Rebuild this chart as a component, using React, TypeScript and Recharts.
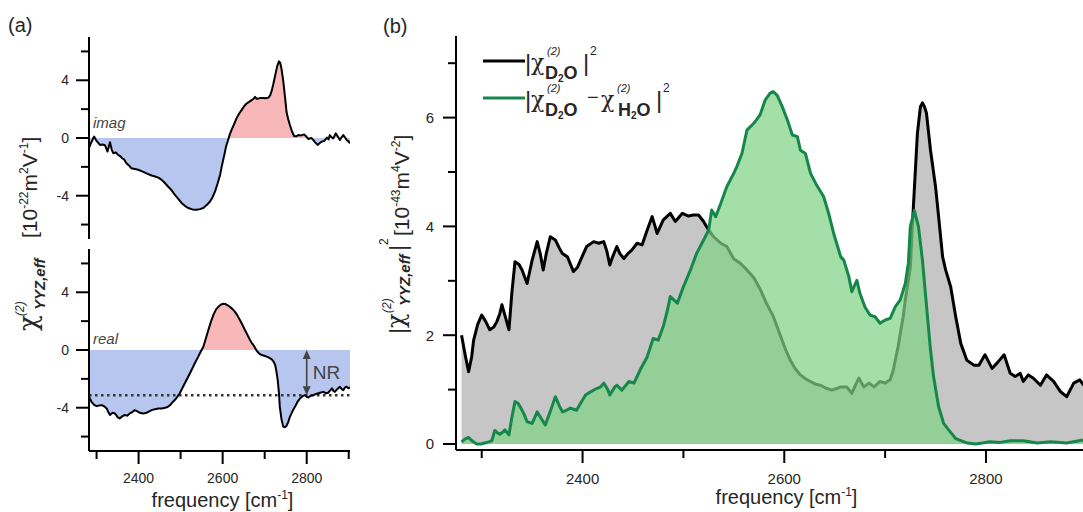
import React from 'react'
import { Area, ComposedChart, Label, Line, ReferenceLine, XAxis, YAxis } from 'recharts'

const FONT = '"Liberation Sans", Arial, Helvetica, sans-serif'
const CHI_FONT = '"DejaVu Serif", "DejaVu Sans", serif'

// (a) imaginary part of chi(2)_YYZ,eff  [1e-22 m^2 V^-1]
const imagFreq = [2280, 2286, 2294, 2300, 2308, 2314, 2320, 2326, 2332, 2336, 2340, 2346, 2351, 2356, 2361, 2366, 2371, 2377, 2383, 2391, 2399, 2407, 2415, 2423, 2431, 2439, 2447, 2455, 2462, 2470, 2478, 2486, 2494, 2502, 2510, 2518, 2528, 2538, 2546, 2554, 2562, 2570, 2576, 2582, 2588, 2594, 2598, 2604, 2608, 2613, 2617, 2621, 2627, 2633, 2639, 2645, 2651, 2657, 2663, 2669, 2673, 2677, 2681, 2685, 2691, 2697, 2703, 2709, 2713, 2717, 2721, 2725, 2730, 2734, 2737, 2740, 2744, 2747, 2750, 2752, 2756, 2760, 2765, 2770, 2775, 2780, 2787, 2794, 2799, 2804, 2811, 2816, 2820, 2826, 2831, 2836, 2842, 2848, 2852, 2855, 2859, 2863, 2869, 2874, 2879, 2883, 2887, 2891, 2895, 2900, 2903]
const imagVal = [-0.83, -0.4, 0.1, -0.2, -0.48, -0.45, -0.5, -0.94, -0.3, -0.8, -1.06, -1.0, -1.17, -1.25, -1.4, -1.5, -1.75, -1.9, -2.1, -2.15, -2.2, -2.3, -2.4, -2.5, -2.6, -2.67, -2.75, -2.9, -3.1, -3.36, -3.6, -3.93, -4.2, -4.5, -4.7, -4.85, -4.95, -4.97, -4.93, -4.85, -4.65, -4.4, -4.1, -3.7, -3.15, -2.55, -1.95, -1.17, -0.6, -0.14, 0.25, 0.55, 0.95, 1.36, 1.68, 1.93, 2.2, 2.39, 2.5, 2.62, 2.7, 2.85, 2.72, 2.74, 2.78, 2.78, 2.76, 2.8, 2.95, 3.3, 3.8, 4.34, 5.0, 5.31, 5.2, 4.8, 4.0, 3.2, 2.4, 1.8, 1.3, 0.9, 0.45, 0.14, 0.12, 0.2, 0.18, 0.25, 0.1, -0.07, 0.0, -0.15, -0.3, -0.48, -0.35, -0.25, -0.2, 0.03, -0.1, 0.2, 0.05, -0.03, 0.32, 0.1, -0.14, 0.05, 0.2, 0.05, -0.14, -0.25, -0.37]

// (a) real part
const realFreq = [2280, 2284, 2288, 2294, 2300, 2306, 2312, 2318, 2324, 2328, 2332, 2338, 2344, 2350, 2355, 2361, 2367, 2373, 2379, 2385, 2391, 2397, 2403, 2411, 2419, 2425, 2431, 2439, 2447, 2455, 2463, 2469, 2475, 2480, 2486, 2492, 2498, 2504, 2510, 2518, 2526, 2534, 2542, 2548, 2554, 2560, 2566, 2572, 2578, 2584, 2590, 2596, 2601, 2607, 2612, 2617, 2623, 2629, 2635, 2641, 2647, 2653, 2659, 2665, 2669, 2673, 2677, 2681, 2687, 2693, 2699, 2705, 2711, 2717, 2721, 2725, 2728, 2731, 2734, 2736, 2740, 2744, 2748, 2752, 2756, 2760, 2766, 2772, 2778, 2784, 2790, 2796, 2800, 2804, 2810, 2816, 2822, 2828, 2834, 2840, 2846, 2851, 2856, 2860, 2864, 2867, 2873, 2879, 2883, 2887, 2891, 2895, 2899, 2903]
const realVal = [-3.0, -3.35, -3.59, -3.8, -3.89, -3.85, -3.82, -3.9, -4.05, -4.3, -4.5, -4.35, -4.4, -4.65, -4.75, -4.6, -4.5, -4.55, -4.4, -4.3, -4.17, -4.25, -4.35, -4.4, -4.35, -4.25, -4.17, -4.1, -4.05, -4.05, -4.0, -3.95, -3.82, -3.65, -3.47, -3.25, -3.0, -2.65, -2.31, -1.85, -1.39, -0.9, -0.46, -0.1, 0.23, 0.8, 1.39, 1.95, 2.43, 2.8, 3.0, 3.15, 3.2, 3.18, 3.1, 3.0, 2.85, 2.66, 2.4, 2.08, 1.75, 1.39, 1.05, 0.69, 0.5, 0.35, 0.15, -0.05, -0.25, -0.35, -0.4, -0.46, -0.55, -0.65, -0.8, -1.04, -1.5, -2.08, -3.0, -3.94, -4.8, -5.3, -5.35, -5.25, -5.0, -4.63, -4.25, -3.94, -3.6, -3.36, -3.2, -3.13, -3.25, -3.29, -3.15, -3.13, -3.05, -3.0, -2.95, -2.9, -3.0, -2.96, -2.8, -2.66, -2.85, -2.9, -2.7, -2.55, -2.7, -2.78, -2.6, -2.55, -2.65, -2.6]
const nrLevel = -3.13
const nrFreq = 2800

// (b) |chi(2)_D2O|^2  [1e-43 m^4 V^-2]
const d2oFreq = [2280, 2284, 2287, 2290, 2292, 2296, 2300, 2304, 2308, 2312, 2315, 2318, 2320, 2324, 2327, 2330, 2333, 2337, 2340, 2345, 2350, 2355, 2358, 2361, 2364, 2368, 2373, 2377, 2380, 2385, 2391, 2395, 2398, 2404, 2411, 2416, 2421, 2424, 2427, 2430, 2434, 2437, 2441, 2445, 2449, 2454, 2459, 2464, 2469, 2474, 2480, 2487, 2492, 2499, 2505, 2510, 2515, 2520, 2525, 2530, 2537, 2543, 2550, 2556, 2563, 2570, 2576, 2582, 2589, 2596, 2601, 2606, 2611, 2616, 2621, 2626, 2631, 2636, 2641, 2647, 2652, 2656, 2662, 2667, 2671, 2674, 2679, 2684, 2689, 2695, 2700, 2705, 2708, 2710, 2713, 2715, 2718, 2720, 2723, 2725, 2728, 2732, 2735, 2737, 2739, 2741, 2745, 2750, 2754, 2757, 2760, 2765, 2770, 2775, 2781, 2788, 2793, 2799, 2806, 2812, 2818, 2824, 2829, 2834, 2837, 2842, 2847, 2854, 2860, 2867, 2874, 2880, 2887, 2893, 2897]
const d2oVal = [2.0, 1.6, 1.33, 1.6, 1.91, 2.2, 2.37, 2.25, 2.1, 2.15, 2.25, 2.4, 2.56, 2.3, 2.1, 2.8, 3.35, 3.3, 3.2, 2.95, 3.38, 3.72, 3.5, 3.2, 3.5, 3.81, 3.75, 3.6, 3.5, 3.44, 3.17, 3.25, 3.38, 3.63, 3.72, 3.69, 3.72, 3.55, 3.29, 3.45, 3.63, 3.5, 3.41, 3.5, 3.57, 3.69, 3.66, 3.93, 4.18, 3.87, 4.12, 4.24, 4.09, 4.24, 4.19, 4.21, 4.21, 4.09, 3.93, 3.81, 3.69, 3.63, 3.4, 3.33, 3.2, 3.05, 2.85, 2.6, 2.35, 2.0, 1.75, 1.54, 1.38, 1.27, 1.2, 1.15, 1.1, 1.08, 1.03, 0.99, 1.02, 1.05, 1.05, 0.93, 1.1, 1.21, 1.05, 1.12, 1.05, 1.15, 1.12, 1.18, 1.35, 1.54, 1.8, 2.03, 2.35, 2.65, 3.0, 3.26, 4.36, 5.71, 6.2, 6.27, 6.2, 6.08, 5.4, 4.73, 4.0, 3.44, 3.2, 2.89, 2.34, 1.85, 1.54, 1.45, 1.45, 1.64, 1.39, 1.51, 1.64, 1.3, 1.24, 1.3, 1.15, 1.27, 1.21, 1.08, 1.27, 1.15, 0.96, 0.87, 1.12, 1.18, 1.08]

// (b) |chi(2)_D2O - chi(2)_H2O|^2
const diffFreq = [2280, 2284, 2287, 2291, 2295, 2299, 2303, 2307, 2310, 2313, 2316, 2318, 2321, 2323, 2327, 2330, 2333, 2336, 2338, 2342, 2345, 2350, 2355, 2358, 2363, 2368, 2373, 2377, 2380, 2384, 2388, 2394, 2398, 2403, 2408, 2414, 2418, 2421, 2425, 2427, 2432, 2434, 2439, 2446, 2451, 2457, 2464, 2470, 2475, 2480, 2484, 2487, 2494, 2500, 2507, 2513, 2520, 2525, 2528, 2532, 2537, 2543, 2550, 2553, 2558, 2563, 2570, 2576, 2581, 2586, 2589, 2593, 2598, 2603, 2608, 2613, 2616, 2621, 2626, 2632, 2639, 2644, 2649, 2656, 2659, 2664, 2667, 2672, 2675, 2680, 2685, 2690, 2695, 2700, 2705, 2710, 2715, 2720, 2723, 2725, 2729, 2733, 2737, 2742, 2745, 2748, 2753, 2758, 2763, 2770, 2781, 2790, 2804, 2814, 2824, 2837, 2851, 2864, 2880, 2895, 2897]
const diffVal = [0.04, 0.1, 0.12, 0.05, 0.0, 0.0, 0.02, 0.04, 0.06, 0.25, 0.2, 0.18, 0.22, 0.26, 0.17, 0.5, 0.78, 0.75, 0.69, 0.55, 0.41, 0.38, 0.59, 0.5, 0.35, 0.6, 0.87, 0.7, 0.59, 0.62, 0.66, 0.62, 0.75, 0.9, 0.96, 1.02, 1.05, 1.12, 1.0, 0.9, 1.05, 1.08, 0.99, 1.15, 1.12, 1.36, 1.6, 1.94, 1.91, 2.16, 2.45, 2.71, 2.59, 2.89, 3.2, 3.5, 3.75, 3.93, 4.3, 4.18, 4.42, 4.73, 4.98, 5.1, 5.34, 5.77, 5.9, 6.05, 6.32, 6.45, 6.48, 6.41, 6.2, 5.96, 5.68, 5.65, 5.4, 5.34, 4.98, 4.76, 4.55, 4.24, 3.87, 3.44, 3.38, 3.08, 2.8, 3.01, 2.77, 2.52, 2.37, 2.34, 2.22, 2.28, 2.31, 2.52, 2.65, 2.95, 3.32, 4.0, 4.29, 4.0, 3.38, 2.34, 1.73, 1.24, 0.69, 0.38, 0.26, 0.1, 0.02, 0.0, 0.04, 0.03, 0.06, 0.06, 0.02, 0.04, 0.02, 0.07, 0.07]

const chiTicks = [-6, -4, -2, 0, 2, 4, 6]
const chiLabels = [-4, 0, 4]
const sqTicks = [0, 1, 2, 3, 4, 5, 6, 7]
const sqLabels = [0, 2, 4, 6]
const freqTicksA = [2300, 2400, 2500, 2600, 2700, 2800, 2900]
const freqTicksB = [2300, 2400, 2500, 2600, 2700, 2800]
const freqLabels = [2400, 2600, 2800]

const POS_FILL = '#f8b8b9'
const NEG_FILL = '#b7c6ef'
const GRAY_FILL = '#c6c6c6'
const GREEN = '#15874a'
const GREEN_FILL = '#7fd283'
const TEXT = '#262626'

function signedRows(freq: number[], val: number[]) {
  return freq.map((f, i) => ({ f, v: val[i], pos: Math.max(val[i], 0), neg: Math.min(val[i], 0) }))
}

function rows(freq: number[], val: number[]) {
  return freq.map((f, i) => ({ f, v: val[i] }))
}

const imagRows = signedRows(imagFreq, imagVal)
const realRows = signedRows(realFreq, realVal)
const d2oRows = rows(d2oFreq, d2oVal)
const diffRows = rows(diffFreq, diffVal)

const axisLine = { stroke: '#000', strokeWidth: 2 }

function yTick(labels: number[], fontSize: number, gap: number) {
  return (props: any) => {
    const { x, y, payload } = props
    const major = labels.includes(payload.value)
    return (
      <g>
        <line x1={x} x2={x - (major ? 13 : 8)} y1={y} y2={y} stroke="#000" strokeWidth={2} />
        {major && (
          <text x={x - gap} y={y} dy="0.36em" textAnchor="end" fontSize={fontSize} fill={TEXT} fontFamily={FONT}>
            {payload.value}
          </text>
        )}
      </g>
    )
  }
}

function xTick(labels: number[], fontSize: number, gap: number) {
  return (props: any) => {
    const { x, y, payload } = props
    const major = labels.includes(payload.value)
    return (
      <g>
        <line x1={x} x2={x} y1={y} y2={y + (major ? 13 : 8)} stroke="#000" strokeWidth={2} />
        {major && (
          <text x={x} y={y + gap} textAnchor="middle" fontSize={fontSize} fill={TEXT} fontFamily={FONT}>
            {payload.value}
          </text>
        )}
      </g>
    )
  }
}

function freqTitle(dx: number, dy: number) {
  return (props: any) => {
    const { x, y, width } = props.viewBox
    return (
      <text x={x + width / 2 + dx} y={y + dy} textAnchor="middle" fontSize={20} fill={TEXT} fontFamily={FONT}>
        frequency [cm
        <tspan fontSize={12} dy={-8}>-1</tspan>
        <tspan dy={8}>]</tspan>
      </text>
    )
  }
}

function NrArrow(props: any) {
  const { x1, y1, x2, y2 } = props
  const c = '#444'
  return (
    <g>
      <line x1={x1} x2={x2} y1={y1 + 6} y2={y2 - 6} stroke={c} strokeWidth={1.6} />
      <polygon points={`${x1},${y1} ${x1 - 4},${y1 + 9} ${x1 + 4},${y1 + 9}`} fill={c} />
      <polygon points={`${x2},${y2} ${x2 - 4},${y2 - 9} ${x2 + 4},${y2 - 9}`} fill={c} />
    </g>
  )
}

function SignedPanel({ data, showX }: { data: any[]; showX: boolean }) {
  return (
    <ComposedChart
      width={370}
      height={showX ? 272 : 250}
      data={data}
      margin={showX ? { top: 9, right: 20, bottom: 9, left: 0 } : { top: 37, right: 20, bottom: 11, left: 0 }}
    >
      <XAxis
        type="number"
        dataKey="f"
        domain={[2282, 2903]}
        allowDataOverflow
        hide={!showX}
        ticks={freqTicksA}
        interval={0}
        height={52}
        axisLine={axisLine}
        tickLine={false}
        tickSize={0}
        tickMargin={0}
        tick={xTick(freqLabels, 14, 32)}
      >
        {showX && <Label content={freqTitle(3, 56)} />}
      </XAxis>
      <YAxis
        type="number"
        domain={[-7, 7]}
        allowDataOverflow
        ticks={chiTicks}
        interval={0}
        width={89}
        axisLine={axisLine}
        tickLine={false}
        tickSize={0}
        tickMargin={0}
        tick={yTick(chiLabels, 14, 20)}
      />
      <Area type="linear" dataKey="pos" stroke="none" fill={POS_FILL} fillOpacity={1} isAnimationActive={false} />
      <Area type="linear" dataKey="neg" stroke="none" fill={NEG_FILL} fillOpacity={1} isAnimationActive={false} />
      {showX && <ReferenceLine y={nrLevel} stroke="#333" strokeWidth={2.5} strokeDasharray="2.5 3.5" />}
      <Line type="linear" dataKey="v" stroke="#000" strokeWidth={2} dot={false} strokeLinejoin="round" isAnimationActive={false} />
      {showX && (
        <ReferenceLine
          segment={[{ x: nrFreq, y: 0 }, { x: nrFreq, y: nrLevel }]}
          shape={NrArrow}
          label={{ value: 'NR', position: 'right', offset: 6, fontSize: 19, fill: '#444', fontFamily: FONT }}
        />
      )}
    </ComposedChart>
  )
}

function SquaredPanel() {
  return (
    <ComposedChart width={713} height={512} margin={{ top: 36, right: 0, bottom: 10, left: 0 }}>
      <XAxis
        type="number"
        dataKey="f"
        domain={[2274.5, 2896.2]}
        allowDataOverflow
        ticks={freqTicksB}
        interval={0}
        height={52}
        axisLine={axisLine}
        tickLine={false}
        tickSize={0}
        tickMargin={0}
        tick={xTick(freqLabels, 15, 34)}
      >
        <Label content={freqTitle(17, 54)} />
      </XAxis>
      <YAxis
        type="number"
        domain={[-0.11, 7.5]}
        allowDataOverflow
        ticks={sqTicks}
        interval={0}
        width={86}
        axisLine={axisLine}
        tickLine={false}
        tickSize={0}
        tickMargin={0}
        tick={yTick(sqLabels, 15, 22)}
      />
      <Area
        data={d2oRows}
        type="linear"
        dataKey="v"
        stroke="#000"
        strokeWidth={3}
        strokeLinejoin="round"
        fill={GRAY_FILL}
        fillOpacity={1}
        isAnimationActive={false}
      />
      <Area
        data={diffRows}
        type="linear"
        dataKey="v"
        stroke={GREEN}
        strokeWidth={3}
        strokeLinejoin="round"
        fill={GREEN_FILL}
        fillOpacity={0.72}
        isAnimationActive={false}
      />
    </ComposedChart>
  )
}

function Annotations() {
  const sup = { fontSize: 11, fontStyle: 'italic' as const }
  const bold = { fontWeight: 'bold' as const }
  return (
    <svg width={1083} height={512} style={{ position: 'absolute', left: 0, top: 0, pointerEvents: 'none' }} fontFamily={FONT}>
      <text x={8} y={32} fontSize={20} fill={TEXT}>(a)</text>
      <text x={383} y={33} fontSize={20} fill={TEXT}>(b)</text>
      <text x={93} y={128} fontSize={15} fontStyle="italic" fill="#444">imag</text>
      <text x={93} y={344} fontSize={15} fontStyle="italic" fill="#444">real</text>

      {/* panel (a) y title */}
      <text transform="rotate(-90)" fill={TEXT}>
        <tspan x={-331} y={37} fontSize={26} fontFamily={CHI_FONT}>χ</tspan>
        <tspan x={-316} y={24} fontSize={12} fontStyle="italic">(2)</tspan>
        <tspan x={-310} y={45} fontSize={15} fontStyle="italic" fontWeight="bold">YYZ,eff</tspan>
        <tspan x={-238} y={37} fontSize={21}>[10</tspan>
        <tspan y={28} fontSize={12}>-22</tspan>
        <tspan y={37} fontSize={21}>m</tspan>
        <tspan y={28} fontSize={12}>2</tspan>
        <tspan y={37} fontSize={21}>V</tspan>
        <tspan y={28} fontSize={12}>-1</tspan>
        <tspan y={37} fontSize={21}>]</tspan>
      </text>

      {/* panel (b) y title */}
      <text transform="rotate(-90)" fill={TEXT}>
        <tspan x={-334} y={406} fontSize={24}>|</tspan>
        <tspan x={-328} y={404} fontSize={24} fontFamily={CHI_FONT}>χ</tspan>
        <tspan x={-313} y={391} fontSize={12} fontStyle="italic">(2)</tspan>
        <tspan x={-306} y={410} fontSize={15} fontStyle="italic" fontWeight="bold">YYZ,eff</tspan>
        <tspan x={-251} y={406} fontSize={24}>|</tspan>
        <tspan x={-245} y={388} fontSize={12}>2</tspan>
        <tspan x={-236} y={409} fontSize={21}>[10</tspan>
        <tspan y={400} fontSize={12}>-43</tspan>
        <tspan y={409} fontSize={21}>m</tspan>
        <tspan y={400} fontSize={12}>4</tspan>
        <tspan y={409} fontSize={21}>V</tspan>
        <tspan y={400} fontSize={12}>-2</tspan>
        <tspan y={409} fontSize={21}>]</tspan>
      </text>

      {/* legend */}
      <line x1={483} x2={525} y1={61} y2={61} stroke="#000" strokeWidth={3} />
      <line x1={483} x2={525} y1={98} y2={98} stroke={GREEN} strokeWidth={3} />
      <text fill={TEXT}>
        <tspan x={525} y={71} fontSize={24}>|</tspan>
        <tspan x={531} y={70} fontSize={22} fontFamily={CHI_FONT}>χ</tspan>
        <tspan x={547} y={55} {...sup}>(2)</tspan>
      </text>
      <text fill={TEXT} {...bold}>
        <tspan x={545} y={79} fontSize={18}>D</tspan>
        <tspan y={82} fontSize={10}>2</tspan>
        <tspan y={79} fontSize={18}>O</tspan>
      </text>
      <text fill={TEXT}>
        <tspan x={583} y={71} fontSize={24}>|</tspan>
        <tspan x={590} y={55} fontSize={12}>2</tspan>
      </text>

      <text fill={TEXT}>
        <tspan x={525} y={108} fontSize={24}>|</tspan>
        <tspan x={531} y={107} fontSize={22} fontFamily={CHI_FONT}>χ</tspan>
        <tspan x={547} y={92} {...sup}>(2)</tspan>
      </text>
      <text fill={TEXT} {...bold}>
        <tspan x={545} y={116} fontSize={18}>D</tspan>
        <tspan y={119} fontSize={10}>2</tspan>
        <tspan y={116} fontSize={18}>O</tspan>
      </text>
      <text fill={TEXT}>
        <tspan x={587} y={104} fontSize={20}>−</tspan>
        <tspan x={601} y={107} fontSize={22} fontFamily={CHI_FONT}>χ</tspan>
        <tspan x={617} y={92} {...sup}>(2)</tspan>
      </text>
      <text fill={TEXT} {...bold}>
        <tspan x={618} y={116} fontSize={18}>H</tspan>
        <tspan y={119} fontSize={10}>2</tspan>
        <tspan y={116} fontSize={18}>O</tspan>
      </text>
      <text fill={TEXT}>
        <tspan x={656} y={108} fontSize={24}>|</tspan>
        <tspan x={663} y={92} fontSize={12}>2</tspan>
      </text>
    </svg>
  )
}

export default function App() {
  return (
    <div style={{ position: 'absolute', left: 0, top: 0, width: 1083, height: 512, background: '#fff', fontFamily: FONT, overflow: 'hidden' }}>
      <div style={{ position: 'absolute', left: 0, top: 0 }}>
        <SignedPanel data={imagRows} showX={false} />
      </div>
      <div style={{ position: 'absolute', left: 0, top: 240 }}>
        <SignedPanel data={realRows} showX />
      </div>
      <div style={{ position: 'absolute', left: 370, top: 0 }}>
        <SquaredPanel />
      </div>
      <Annotations />
    </div>
  )
}
